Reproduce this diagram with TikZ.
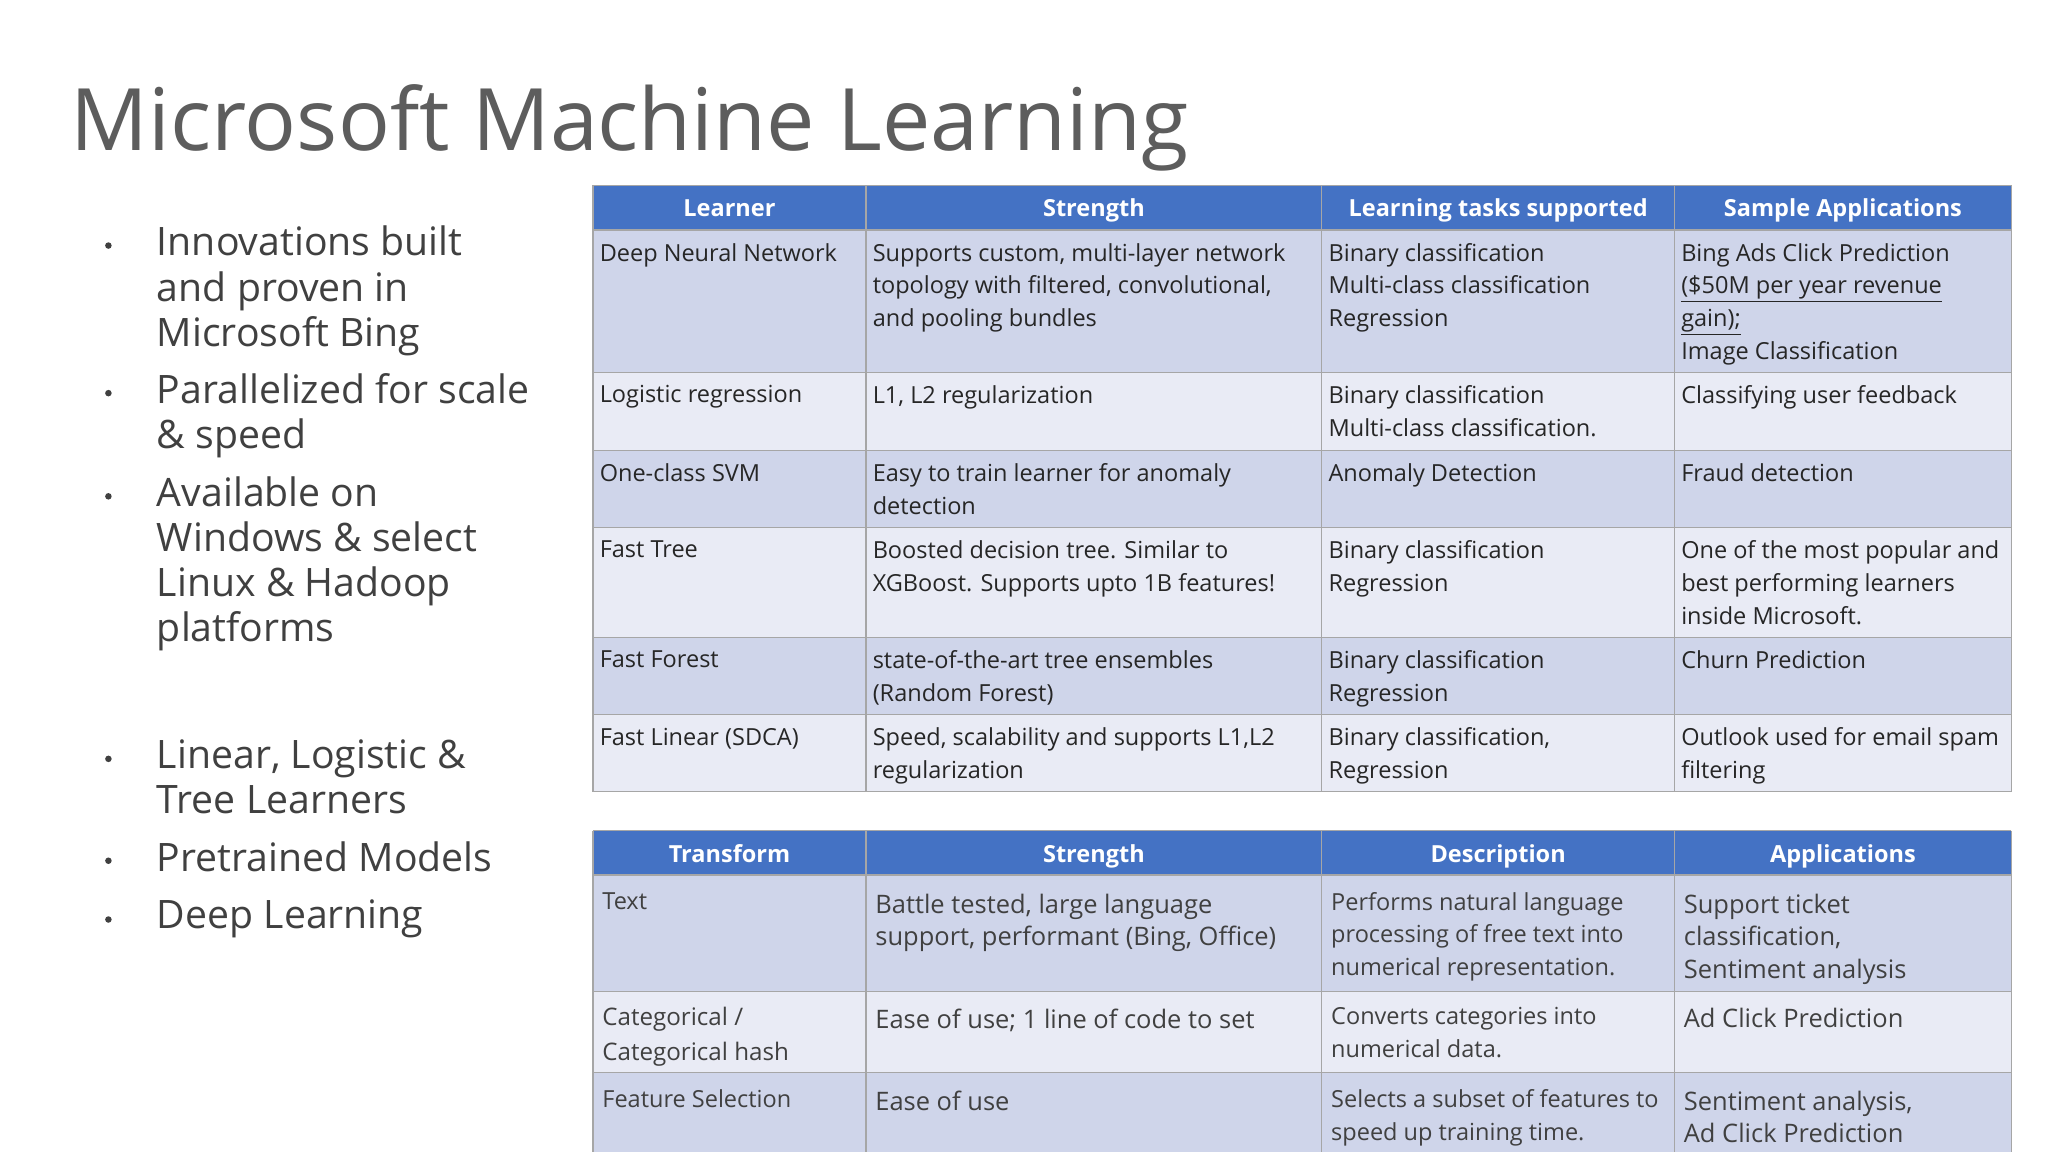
\documentclass[tikz,border=0pt]{standalone}
\usepackage{fontspec}
\setmainfont{Open Sans}
\definecolor{hdr}{HTML}{4472C4}
\definecolor{rowa}{HTML}{CFD5EA}
\definecolor{rowb}{HTML}{E9EBF5}
\definecolor{txt}{HTML}{262626}
\definecolor{txtb}{HTML}{404040}
\begin{document}
\begin{tikzpicture}[x=1pt,y=-1pt,
  cellt/.style={anchor=north west,inner sep=0pt,align=left,text=txt,font=\fontsize{18}{25}\selectfont},
  cellu/.style={anchor=north west,inner sep=0pt,align=left,text=txtb,font=\fontsize{19.5}{25}\selectfont},
  head/.style={anchor=base,text=white,font=\fontsize{18}{22}\selectfont\bfseries},
  bul/.style={anchor=north west,inner sep=0pt,align=left,text=txtb,font=\fontsize{30}{34.5}\selectfont},
  grid/.style={draw=gray!70,line width=1pt}]
\useasboundingbox (0,0) rectangle (1568,882);
\fill[white] (0,0) rectangle (1568,882);
\node[anchor=base west,inner sep=0pt,text=txtb!85,font=\fontsize{66}{70}\selectfont] (title) at (54,115) {Microsoft Machine Learning};
% bullets
\foreach \y/\t in {173/{Innovations built\\and proven in\\Microsoft Bing},286/{Parallelized for scale\\\& speed},365/{Available on\\Windows \& select\\Linux \& Hadoop\\platforms},566/{Linear, Logistic \&\\Tree Learners},644/{Pretrained Models},689/{Deep Learning}}{
  \node[bul] at (120,\y) {\t};
  \node[circle,fill=txtb,inner sep=0pt,minimum size=5pt] at (83,\y+15) {};
}
% table 1
\def\xa{454}\def\xb{663}\def\xc{1012}\def\xd{1282}\def\xe{1540}
\fill[hdr] (\xa,142) rectangle (\xe,176);
\fill[rowa] (\xa,176) rectangle (\xe,285);
\fill[rowb] (\xa,285) rectangle (\xe,345);
\fill[rowa] (\xa,345) rectangle (\xe,404);
\fill[rowb] (\xa,404) rectangle (\xe,488);
\fill[rowa] (\xa,488) rectangle (\xe,547);
\fill[rowb] (\xa,547) rectangle (\xe,606);
\foreach \y in {142,176,285,345,404,488,547,606} \draw[grid] (\xa,\y) -- (\xe,\y);
\foreach \x in {\xa,\xb,\xc,\xd,\xe} \draw[grid] (\x,142) -- (\x,606);
\node[head] at (558.5,166) {Learner};
\node[head] at (837.5,166) {Strength};
\node[head] at (1147,166) {Learning tasks supported};
\node[head] at (1411,166) {Sample Applications};
\node[cellt] at (459,186) {Deep Neural Network};
\node[cellt] at (668,186) {Supports custom, multi-layer network\\topology with filtered, convolutional,\\and pooling bundles};
\node[cellt] at (1017,186) {Binary classification\\Multi-class classification\\Regression};
\node[cellt] at (1287,186) {Bing Ads Click Prediction\\\underline{(\$50M per year revenue}\\\underline{gain);}\\Image Classification};
\node[cellt] at (459,295) {Logistic regression};
\node[cellt] at (668,295) {L1, L2 regularization};
\node[cellt] at (1017,295) {Binary classification\\Multi-class classification.};
\node[cellt] at (1287,295) {Classifying user feedback};
\node[cellt] at (459,355) {One-class SVM};
\node[cellt] at (668,355) {Easy to train learner for anomaly\\detection};
\node[cellt] at (1017,355) {Anomaly Detection};
\node[cellt] at (1287,355) {Fraud detection};
\node[cellt] at (459,414) {Fast Tree};
\node[cellt] at (668,414) {Boosted decision tree. Similar to\\XGBoost. Supports upto 1B features!};
\node[cellt] at (1017,414) {Binary classification\\Regression};
\node[cellt] at (1287,414) {One of the most popular and\\best performing learners\\inside Microsoft.};
\node[cellt] at (459,498) {Fast Forest};
\node[cellt] at (668,498) {state-of-the-art tree ensembles\\(Random Forest)};
\node[cellt] at (1017,498) {Binary classification\\Regression};
\node[cellt] at (1287,498) {Churn Prediction};
\node[cellt] at (459,557) {Fast Linear (SDCA)};
\node[cellt] at (668,557) {Speed, scalability and supports L1,L2\\regularization};
\node[cellt] at (1017,557) {Binary classification,\\Regression};
\node[cellt] at (1287,557) {Outlook used for email spam\\filtering};
% table 2
\fill[hdr] (\xa,636) rectangle (\xe,670);
\fill[rowa] (\xa,670) rectangle (\xe,759);
\fill[rowb] (\xa,759) rectangle (\xe,821);
\fill[rowa] (\xa,821) rectangle (\xe,890);
\foreach \y in {636,670,759,821} \draw[grid] (\xa,\y) -- (\xe,\y);
\foreach \x in {\xa,\xb,\xc,\xd,\xe} \draw[grid] (\x,636) -- (\x,890);
\node[head] at (558.5,660) {Transform};
\node[head] at (837.5,660) {Strength};
\node[head] at (1147,660) {Description};
\node[head] at (1411,660) {Applications};
\node[cellu,font=\fontsize{18}{27}\selectfont] at (461,683) {Text};
\node[cellu] at (670,684) {Battle tested, large language\\support, performant (Bing, Office)};
\node[cellu,font=\fontsize{18}{25}\selectfont] at (1019,683) {Performs natural language\\processing of free text into\\numerical representation.};
\node[cellu] at (1289,684) {Support ticket\\classification,\\Sentiment analysis};
\node[cellu,font=\fontsize{18.5}{27}\selectfont] at (461,771) {Categorical /\\Categorical hash};
\node[cellu] at (670,772) {Ease of use; 1 line of code to set};
\node[cellu,font=\fontsize{18}{25}\selectfont] at (1019,771) {Converts categories into\\numerical data.};
\node[cellu] at (1289,772) {Ad Click Prediction};
\node[cellu,font=\fontsize{18}{25}\selectfont] at (461,834) {Feature Selection};
\node[cellu] at (670,835) {Ease of use};
\node[cellu,font=\fontsize{18}{25}\selectfont] at (1019,834) {Selects a subset of features to\\speed up training time.};
\node[cellu] at (1289,835) {Sentiment analysis,\\Ad Click Prediction};
\end{tikzpicture}
\end{document}
